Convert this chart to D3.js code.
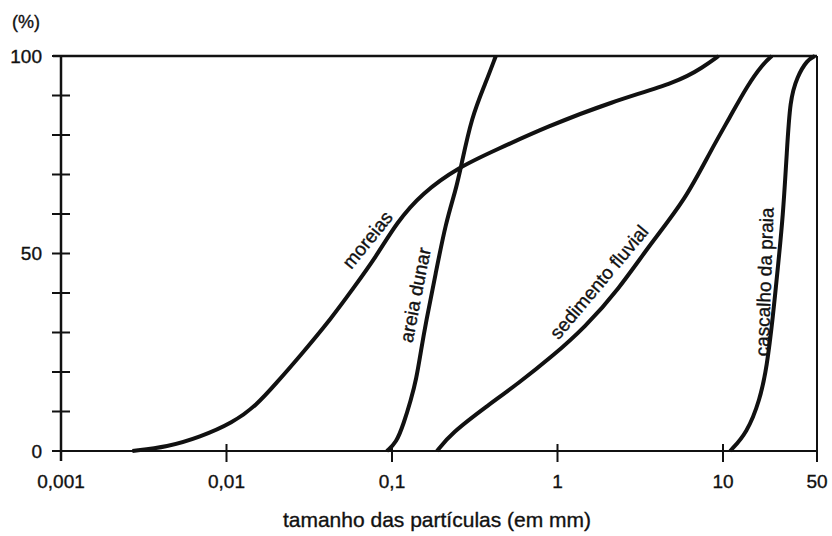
<!DOCTYPE html>
<html lang="pt">
<head>
  <meta charset="utf-8">
  <title>Granulometria</title>
  <style>
    body { margin: 0; background: #fff; }
    svg text { font-family: 'Liberation Sans', Arial, sans-serif; fill: #111; stroke: #111; stroke-width: 0.35px; }
  </style>
  <script src="https://d3js.org/d3.v7.min.js"></script>
</head>
<body>
<svg id="chart" width="832" height="536"></svg>
<script>
// curvas granulometricas: [tamanho em mm, % acumulada]
const moreias = [[0.0027,0],[0.0044,1],[0.0069,3.5],[0.0109,7.1],[0.0152,11.6],[0.020,17.2],
  [0.0275,23.8],[0.0436,33.9],[0.0574,40.8],[0.080,49.1],[0.106,57.7],[0.152,65.3],[0.254,71.9],
  [0.424,76.2],[0.85,82],[2.11,88.4],[5.35,93.4],[7.6,97.2],[9.4,100]];
const areiaDunar = [[0.093,0],[0.106,2],[0.118,7.1],[0.130,12.9],[0.140,18],[0.150,25.6],
  [0.160,32.4],[0.184,45.1],[0.211,57.7],[0.243,66.1],[0.261,71.9],[0.303,84.6],[0.368,93.2],[0.424,100]];
const sedimentoFluvial = [[0.187,0],[0.230,4.6],[0.368,11.1],[0.582,17.2],[0.921,23.8],[1.47,31.4],
  [2.33,40.8],[3.68,52.7],[5.9,63.5],[8.47,76.2],[11.3,84.6],[15.1,92.4],[19.8,98],[23.1,100]];
const cascalhoPraia = [[11.3,0],[15.1,4.6],[18.8,12.9],[21.2,21.3],[23.5,33.9],[25.6,46.6],
  [27.9,59.2],[29.9,76.2],[31.5,88.9],[35.5,94.7],[42.2,99],[48.3,100]];

const series = [moreias, areiaDunar, sedimentoFluvial, cascalhoPraia];

// rotulos das curvas: texto, tamanho, %, angulo
const curveLabels = [["moreias",0.071,53.5,-51],["areia dunar",0.138,39.5,-79],
  ["sedimento fluvial",1.78,42.8,-50],["cascalho da praia",20.3,42.8,-88]];

const xTicks = [0.001,0.01,0.1,1,10,50];
const xTickLabels = ["0,001","0,01","0,1","1","10","50"];
const yTicks = [0,10,20,30,40,50,60,70,80,90,100];
const yTickLabels = [0,50,100];

const svg = d3.select("#chart");

// a escala comprime o ultimo trecho (10 a 50) como no original
const x = d3.scaleLog().domain([0.001,10,50]).range([61,723,817]);
const y = d3.scaleLinear().domain([0,100]).range([451,56]);

// moldura
svg.append("line").attr("x1",x(0.001)).attr("x2",x(0.001)).attr("y1",y(100)).attr("y2",y(0)+10)
  .attr("stroke","#111").attr("stroke-width",2.5);
svg.append("line").attr("x1",x(0.001)-8).attr("x2",x(50)).attr("y1",y(100)).attr("y2",y(100))
  .attr("stroke","#111").attr("stroke-width",2.5);
svg.append("line").attr("x1",x(0.001)).attr("x2",x(50)).attr("y1",y(0)).attr("y2",y(0))
  .attr("stroke","#111").attr("stroke-width",2);
svg.append("line").attr("x1",x(50)).attr("x2",x(50)).attr("y1",y(100)).attr("y2",y(0)+11)
  .attr("stroke","#111").attr("stroke-width",2);

// marcas do eixo y
svg.selectAll(".ytick").data(yTicks).enter().append("line")
  .attr("x1",x(0.001)-9).attr("x2",x(0.001)+9)
  .attr("y1",d=>y(d)).attr("y2",d=>y(d))
  .attr("stroke","#111").attr("stroke-width",2);

svg.selectAll(".ylab").data(yTickLabels).enter().append("text")
  .attr("x",42).attr("y",d=>y(d)).attr("dy","0.36em")
  .attr("text-anchor","end").attr("font-size",19).text(d=>d);

svg.append("text").attr("x",26).attr("y",28).attr("text-anchor","middle")
  .attr("font-size",18).text("(%)");

// marcas do eixo x
svg.selectAll(".xtick").data(xTicks.slice(1,5)).enter().append("line")
  .attr("x1",d=>x(d)).attr("x2",d=>x(d))
  .attr("y1",y(0)-7).attr("y2",y(0)+11)
  .attr("stroke","#111").attr("stroke-width",2);

svg.selectAll(".xlab").data(xTicks).enter().append("text")
  .attr("x",d=>x(d)).attr("y",488)
  .attr("text-anchor","middle").attr("font-size",19)
  .text((d,i)=>xTickLabels[i]);

svg.append("text").attr("x",437).attr("y",527).attr("text-anchor","middle")
  .attr("font-size",21).text("tamanho das partículas (em mm)");

// curvas
const line = d3.line().x(d=>x(d[0])).y(d=>y(d[1])).curve(d3.curveBasis);
svg.selectAll(".curva").data(series).enter().append("path")
  .attr("d",line).attr("fill","none")
  .attr("stroke","#111").attr("stroke-width",4).attr("stroke-linejoin","round");

svg.selectAll(".rotulo").data(curveLabels).enter().append("text")
  .attr("transform",d=>"translate("+x(d[1])+","+y(d[2])+") rotate("+d[3]+")")
  .attr("text-anchor","middle").attr("dy","0.35em")
  .attr("font-size",19).text(d=>d[0]);
</script>
</body>
</html>
